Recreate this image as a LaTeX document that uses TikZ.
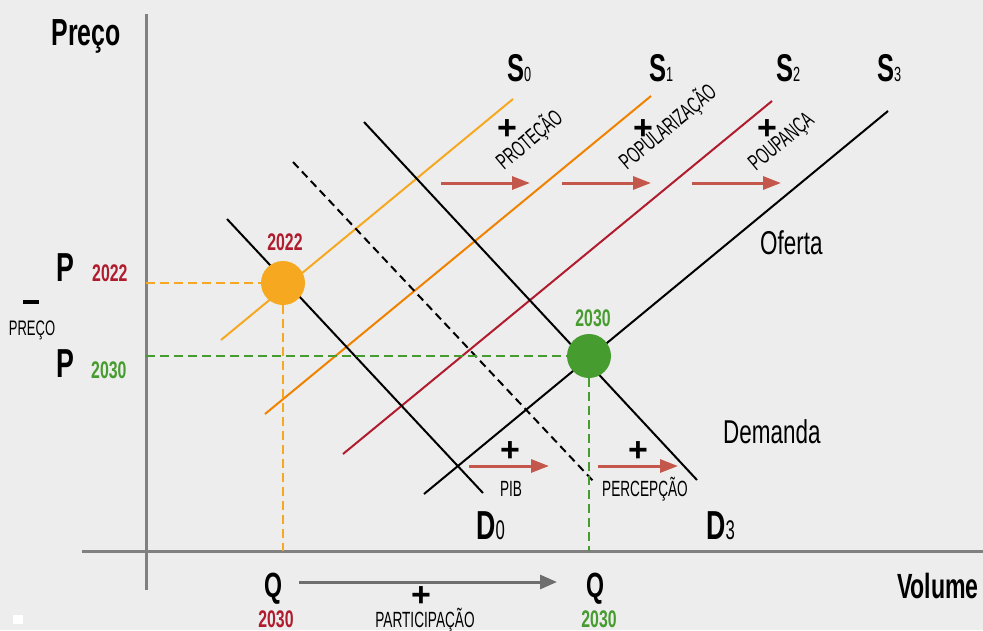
\documentclass[tikz,border=0pt]{standalone}
\usepackage{fontspec}
\usetikzlibrary{arrows.meta}
\setmainfont{Liberation Sans}[FakeStretch=0.62,BoldFeatures={FakeStretch=0.66}]
\newfontfamily\thinfont{Liberation Sans}[FakeStretch=0.68]
\newfontfamily\sinal{Liberation Sans}
\newcommand\fsz[1]{\fontsize{#1}{#1}\selectfont}
\newcommand\curvalbl[3]{{\fsz{#3}\bfseries #1}{\fsz{20.5}#2}}
\definecolor{fundo}{HTML}{EDEDED}
\definecolor{eixo}{HTML}{808080}
\definecolor{cinza}{HTML}{6E6E6E}
\definecolor{laranja}{HTML}{F6A821}
\definecolor{laranjaesc}{HTML}{F08200}
\definecolor{vinho}{HTML}{B01C2E}
\definecolor{verde}{HTML}{479C2F}
\definecolor{seta}{HTML}{C4574B}
\begin{document}
\begin{tikzpicture}[x=1pt,y=-1pt,
    curva/.style={line width=2pt},
    guia/.style={line width=2.2pt,dash pattern=on 9pt off 5pt},
    desloc/.style={seta,line width=3pt,-{Triangle[length=18pt,width=13pt]}},
    ponto/.style={circle,inner sep=0pt,minimum size=44pt},
    mais/.style={font=\sinal\fsz{34}\bfseries,inner sep=0pt},
    fator/.style={font=\fsz{22},inner sep=0pt},
    girado/.style={font=\fsz{22.5},rotate=40,anchor=base west,inner sep=0pt},
    ano/.style={font=\fsz{24}\bfseries,inner sep=0pt},
    eixotxt/.style={font=\fsz{40.5}\bfseries,inner sep=0pt}]
  \fill[fundo] (0,0) rectangle (983,630);
  \useasboundingbox (0,0) rectangle (983,630);
  \fill[white] (13,615) rectangle (23,624);
  \draw[eixo,line width=3pt] (146,14) -- (146,590);
  \draw[eixo,line width=3pt] (82,551) -- (983,551);
  % oferta S0..S3
  \draw[curva,laranja] (221,340) -- (513,99);
  \draw[curva,laranjaesc] (265,414) -- (651,96);
  \draw[curva,vinho] (343,454) -- (772,101);
  \draw[curva] (424,494) -- (888,111);
  % demanda D0, intermediaria e D3
  \draw[curva] (227,219) -- (483,493);
  \draw[curva,dash pattern=on 8pt off 5pt] (293,162) -- (595,483);
  \draw[curva] (364,122) -- (697,480);
  % equilibrios
  \node[ponto,fill=laranja] (e22) at (283,283) {};
  \node[ponto,fill=verde] (e30) at (589,356) {};
  \coordinate (p22) at (146,283);
  \coordinate (q22) at (283,551);
  \coordinate (p30) at (146,356);
  \coordinate (q30) at (589,551);
  \draw[guia,laranja] (p22) -- (e22) (e22) -- (q22);
  \draw[guia,verde] (p30) -- (e30) (e30) -- (q30);
  \node[ano,text=vinho,anchor=base] (a22) at (285,250) {2022};
  \node[ano,text=verde,anchor=base] (a30) at (593,326) {2030};
  % deslocamentos
  \foreach \x in {441,562,692}
    \draw[desloc] (\x,183) -- ++(89,0);
  \foreach \x in {469,598}
    \draw[desloc] (\x,466) -- ++(80,0);
  \node[mais] (m0) at (507,130) {+};
  \node[mais] (m1) at (643,130) {+};
  \node[mais] (m2) at (767,130) {+};
  \node[mais] (m3) at (510,452) {+};
  \node[mais] (m4) at (638,452) {+};
  \node[girado] (prot) at (504,171) {PROTEÇÃO};
  \node[girado] (popu) at (627,171) {POPULARIZAÇÃO};
  \node[girado] (poup) at (756,172) {POUPANÇA};
  \node[fator,anchor=base] (pib) at (511,496) {PIB};
  \node[fator,anchor=base] (perc) at (645,496) {PERCEPÇÃO};
  % nomes das curvas
  \node[anchor=base west,inner sep=0pt] (s0) at (507,81) {\curvalbl{S}{0}{38.7}};
  \node[anchor=base west,inner sep=0pt] (s1) at (649,81) {\curvalbl{S}{1}{38.7}};
  \node[anchor=base west,inner sep=0pt] (s2) at (776,81) {\curvalbl{S}{2}{38.7}};
  \node[anchor=base west,inner sep=0pt] (s3) at (877,81) {\curvalbl{S}{3}{38.7}};
  \node[anchor=base west,inner sep=0pt] (d0) at (476,539) {{\fsz{40.5}\bfseries D}{\fsz{27}0}};
  \node[anchor=base west,inner sep=0pt] (d3) at (706,539) {{\fsz{40.5}\bfseries D}{\fsz{27}3}};
  \node[font=\thinfont\fsz{33},anchor=base west,inner sep=0pt] (of) at (760,254) {Oferta};
  \node[font=\thinfont\fsz{33},anchor=base west,inner sep=0pt] (dem) at (723,443) {Demanda};
  % eixos: textos
  \node[font=\fsz{37.7}\bfseries,anchor=base,inner sep=0pt] (preco) at (86,45) {Preço};
  \node[font=\fsz{35}\bfseries,anchor=base east,inner sep=0pt] (vol) at (979,598) {Volume};
  \node[eixotxt,anchor=base west] (pa) at (56,281) {P};
  \node[eixotxt,anchor=base west] (pb) at (56,377) {P};
  \node[ano,text=vinho,anchor=base west] (pa22) at (92,281) {2022};
  \node[ano,text=verde,anchor=base west] (pb30) at (91,378) {2030};
  \node[fill=black,inner sep=0pt,minimum width=16pt,minimum height=4pt] (barra) at (31,302) {};
  \node[font=\fsz{21},anchor=base,inner sep=0pt] (pr) at (32,335) {PREÇO};
  \node[font=\fsz{35}\bfseries,anchor=base,inner sep=0pt] (qa) at (273,597) {Q};
  \node[font=\fsz{35}\bfseries,anchor=base,inner sep=0pt] (qb) at (595,597) {Q};
  \node[ano,text=vinho,anchor=base] (qa30) at (276,627) {2030};
  \node[ano,text=verde,anchor=base] (qb30) at (599,627) {2030};
  \coordinate (ini) at (299,582);
  \coordinate (fim) at (557,582);
  \draw[cinza,line width=3pt,-{Triangle[length=17pt,width=14pt]}] (ini) -- (fim);
  \node[mais] (m5) at (421,597) {+};
  \node[fator,anchor=base] (part) at (425,627) {PARTICIPAÇÃO};
\end{tikzpicture}
\end{document}
